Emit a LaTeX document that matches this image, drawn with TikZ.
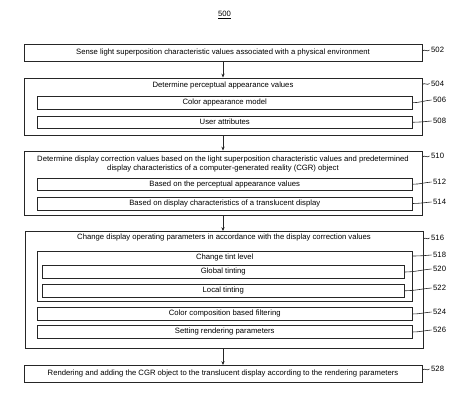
\documentclass[tikz,border=0pt]{standalone}
\usepackage{fontspec}
\setmainfont{Liberation Sans}
\usetikzlibrary{arrows.meta}
\begin{document}
\begin{tikzpicture}[x=1pt,y=-1pt,
  every node/.style={font=\fontsize{7.7}{9}\selectfont},
  box/.style={draw=black!85, line width=0.75pt, rectangle, inner sep=0pt},
  ttl/.style={inner sep=0pt, align=center},
  lbl/.style={inner sep=0pt, anchor=west},
  lead/.style={draw=black!85, line width=0.6pt},
  flow/.style={draw=black!85, line width=0.8pt, -{Stealth[length=4pt,width=3.2pt]}}]
\useasboundingbox (0,0) rectangle (472,411);

\node[inner sep=0pt] (t500) at (224.5,15) {\underline{500}};

% outer boxes
\node[box, minimum width=398pt, minimum height=17pt] (b502) at (223,53)
  {Sense light superposition characteristic values associated with a physical environment};
\node[box, minimum width=398pt, minimum height=57pt] (b504) at (223,106.5) {};
\node[ttl] (t504) at (223,86) {Determine perceptual appearance values};
\node[box, minimum width=374.5pt, minimum height=12.5pt] (b506) at (224.75,102.75) {Color appearance model};
\node[box, minimum width=374.5pt, minimum height=12.5pt] (b508) at (224.75,122.25) {User attributes};

\node[box, minimum width=398pt, minimum height=64.5pt] (b510) at (223,183.25) {};
\node[ttl] (t510) at (223,164) {Determine display correction values based on the light superposition characteristic values and predetermined\\display characteristics of a computer-generated reality (CGR) object};
\node[box, minimum width=374.5pt, minimum height=12.5pt] (b512) at (224.75,184.25) {Based on the perceptual appearance values};
\node[box, minimum width=374.5pt, minimum height=13pt] (b514) at (224.75,203.5) {Based on display characteristics of a translucent display};

\node[box, minimum width=398pt, minimum height=117pt] (b516) at (224,290) {};
\node[ttl] (t516) at (224,238) {Change display operating parameters in accordance with the display correction values};
\node[box, minimum width=374.5pt, minimum height=50pt] (b518) at (224.75,276) {};
\node[ttl] (t518) at (224.75,258) {Change tint level};
\node[box, minimum width=361.5pt, minimum height=12.6pt] (b520) at (223.25,272) {Global tinting};
\node[box, minimum width=361.5pt, minimum height=12.5pt] (b522) at (223.25,290.75) {Local tinting};
\node[box, minimum width=374.5pt, minimum height=13pt] (b524) at (224.75,314) {Color composition based filtering};
\node[box, minimum width=374.5pt, minimum height=12.3pt] (b526) at (224.75,332) {Setting rendering parameters};

\node[box, minimum width=398pt, minimum height=17pt] (b528) at (223,374)
  {Rendering and adding the CGR object to the translucent display according to the rendering parameters};

% labels
\node[lbl] (l502) at (431,50) {502};
\node[lbl] (l504) at (431,83.5) {504};
\node[lbl] (l506) at (433,100) {506};
\node[lbl] (l508) at (433,121) {508};
\node[lbl] (l510) at (431,156) {510};
\node[lbl] (l512) at (433,182) {512};
\node[lbl] (l514) at (433,202) {514};
\node[lbl] (l516) at (431,238) {516};
\node[lbl] (l518) at (433,255) {518};
\node[lbl] (l520) at (433,269) {520};
\node[lbl] (l522) at (433,288) {522};
\node[lbl] (l524) at (433,312) {524};
\node[lbl] (l526) at (433,330) {526};
\node[lbl] (l528) at (431,369) {528};

% leaders for outer boxes (short wiggle)
\foreach \b/\l in {b502/l502, b504/l504, b510/l510, b516/l516, b528/l528}{
  \draw[lead] (\b.east |- \l.west) ++(0,1) .. controls +(2,-2.5) and +(-2,2.5) .. ([xshift=-1.5pt]\l.west);
}
% leaders for inner boxes (curves)
\foreach \b/\l in {b506/l506, b508/l508, b512/l512, b514/l514, b520/l520, b522/l522, b524/l524, b526/l526}{
  \draw[lead] (\b.east) to[out=0,in=185] ([xshift=-1.5pt]\l.west);
}
\draw[lead] ([yshift=2pt]b518.east |- t518) to[out=0,in=185] ([xshift=-1.5pt]l518.west);

% flow arrows
\draw[flow] (b502.south) -- (b504.north);
\draw[flow] (b504.south) -- (b510.north);
\draw[flow] (b510.south) -- (b510.south |- b516.north);
\draw[flow] (b510.south |- b516.south) -- (b510.south |- b528.north);
\end{tikzpicture}
\end{document}
